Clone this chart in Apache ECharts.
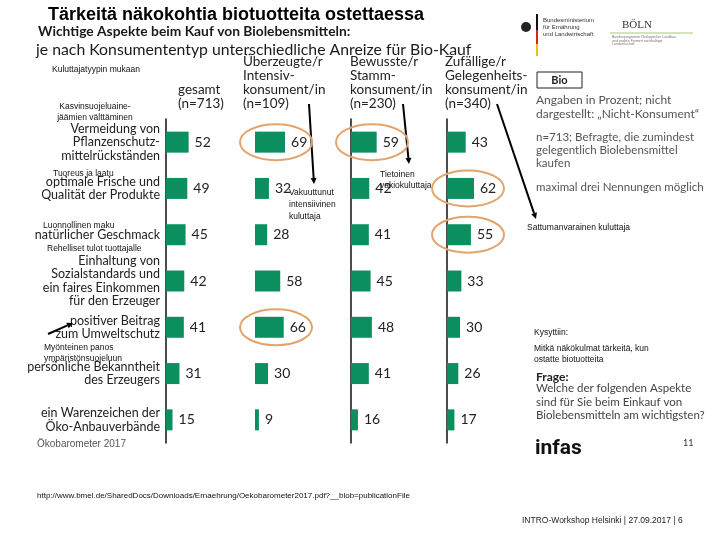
<!DOCTYPE html>
<html>
<head>
<meta charset="utf-8">
<script src="https://cdn.jsdelivr.net/npm/echarts@6/dist/echarts.min.js"></script>
<style>
  html, body { margin: 0; padding: 0; background: #fff; }
  #chart { width: 720px; height: 540px; }
</style>
</head>
<body>
<div id="chart"></div>
<script>
// ─── data ───────────────────────────────────────────
const CATEGORIES = [
  "Vermeidung von\nPflanzenschutz-\nmittelrückständen",
  "optimale Frische und\nQualität der Produkte",
  "natürlicher Geschmack",
  "Einhaltung von\nSozialstandards und\nein faires Einkommen\nfür den Erzeuger",
  "positiver Beitrag\nzum Umweltschutz",
  "persönliche Bekanntheit\ndes Erzeugers",
  "ein Warenzeichen der\nÖko-Anbauverbände"
];
const GROUPS = [
  "gesamt\n(n=713)",
  "Überzeugte/r\nIntensiv-\nkonsument/in\n(n=109)",
  "Bewusste/r\nStamm-\nkonsument/in\n(n=230)",
  "Zufällige/r\nGelegenheits-\nkonsument/in\n(n=340)"
];
const GESAMT = [52, 49, 45, 42, 41, 31, 15];
const INTENSIV = [69, 32, 28, 58, 66, 30, 9];
const STAMM = [59, 42, 41, 45, 48, 41, 16];
const GELEGENHEIT = [43, 62, 55, 33, 30, 26, 17];
const VALUES = [GESAMT, INTENSIV, STAMM, GELEGENHEIT];
// [group, category] pairs circled in orange
const HIGHLIGHTS = [[1, 0], [2, 0], [3, 1], [3, 2], [1, 4]];

// ─── layout ─────────────────────────────────────────
const GRID_LEFT = [166, 255, 351, 447];
const HEADER_X = [178, 243, 350, 445];
const SHOW_AXIS_LINE = [true, false, true, true];
const GREEN = "#0c8f5e";
const ORANGE = "#e2a46c";
const FONT = "Lato, 'Open Sans', sans-serif";
const SMALL = "'Liberation Sans', Arial, sans-serif";

const chart = echarts.init(document.getElementById("chart"));

const grids = GRID_LEFT.map((left) => ({ left, top: 119, width: 87, height: 324 }));
const xAxes = GRID_LEFT.map((_, i) => ({
  type: "value", gridIndex: i, min: 0, max: 200, show: false
}));
const yAxes = GRID_LEFT.map((_, i) => ({
  type: "category",
  gridIndex: i,
  inverse: true,
  data: CATEGORIES,
  axisLine: { show: SHOW_AXIS_LINE[i], lineStyle: { color: "#111", width: 1.5 } },
  axisTick: { show: false },
  splitLine: { show: false },
  axisLabel: {
    show: i === 0,
    margin: 6,
    fontSize: 12.5,
    lineHeight: 13.5,
    color: "#222",
    fontFamily: FONT,
    align: "right"
  }
}));
const series = VALUES.map((vals, i) => ({
  type: "bar",
  xAxisIndex: i,
  yAxisIndex: i,
  data: vals,
  barWidth: 21,
  itemStyle: { color: GREEN },
  label: {
    show: true,
    position: "right",
    distance: 6,
    fontSize: 14,
    color: "#222",
    fontFamily: FONT
  },
  animation: false
}));

chart.setOption({
  animation: false,
  grid: grids,
  xAxis: xAxes,
  yAxis: yAxes,
  series
});

// ─── annotations ────────────────────────────────────
const txt = (text, x, y, opts = {}) => ({
  type: "text",
  z: 50,
  style: Object.assign({
    text, x, y,
    fill: "#222",
    fontSize: 12,
    fontFamily: FONT,
    textAlign: "left", align: "left",
    textVerticalAlign: "middle", verticalAlign: "middle"
  }, opts)
});

const arrow = (x1, y1, x2, y2) => {
  const a = Math.atan2(y2 - y1, x2 - x1);
  const L = 6, W = 3;
  const bx = x2 - L * Math.cos(a), by = y2 - L * Math.sin(a);
  return [
    { type: "line", z: 60, shape: { x1, y1, x2: bx, y2: by }, style: { stroke: "#000", lineWidth: 2 } },
    { type: "polygon", z: 60, shape: { points: [
      [x2, y2],
      [bx + W * Math.sin(a), by - W * Math.cos(a)],
      [bx - W * Math.sin(a), by + W * Math.cos(a)]
    ] }, style: { fill: "#000" } }
  ];
};

const graphics = [
  // titles
  txt("Tärkeitä näkokohtia biotuotteita ostettaessa", 48, 15, { fontSize: 18, fontWeight: "bold", fontFamily: SMALL, fill: "#000" }),
  txt("Wichtige Aspekte beim Kauf von Biolebensmitteln:", 38, 32, { fontSize: 13.8, fontWeight: "bold", fill: "#1a1a1a" }),
  txt("je nach Konsumententyp unterschiedliche Anreize für Bio-Kauf", 36, 50, { fontSize: 15.8, fill: "#1a1a1a" }),
  // column headers
  ...GROUPS.map((g, i) => txt(g, HEADER_X[i], 111, {
    fontSize: 13.5, lineHeight: 14, fill: "#222", textVerticalAlign: "bottom", verticalAlign: "bottom"
  })),
  // Finnish notes
  txt("Kuluttajatyypin mukaan", 52, 70, { fontSize: 8.5, fontFamily: SMALL, fill: "#111" }),
  txt("Kasvinsuojeluaine-\njäämien välttäminen", 95, 112, { fontSize: 8.5, lineHeight: 11, fontFamily: SMALL, fill: "#111", textAlign: "center", align: "center" }),
  txt("Tuoreus ja laatu", 53, 174, { fontSize: 8.5, fontFamily: SMALL, fill: "#111" }),
  txt("Luonnollinen maku", 43, 226, { fontSize: 8.5, fontFamily: SMALL, fill: "#111" }),
  txt("Rehelliset tulot tuottajalle", 47, 249, { fontSize: 8.5, fontFamily: SMALL, fill: "#111" }),
  txt("Myönteinen panos\nympäristönsuojeluun", 44, 353, { fontSize: 8.5, lineHeight: 11, fontFamily: SMALL, fill: "#111" }),
  txt("Vakuuttunut\nintensiivinen\nkuluttaja", 289, 205, { fontSize: 8.5, lineHeight: 12, fontFamily: SMALL, fill: "#111" }),
  txt("Tietoinen\nvakiokuluttaja", 380, 180, { fontSize: 8.5, lineHeight: 11.5, fontFamily: SMALL, fill: "#111" }),
  txt("Sattumanvarainen kuluttaja", 527, 228, { fontSize: 8.5, fontFamily: SMALL, fill: "#111" }),
  ...arrow(48, 334, 73, 323),
  ...arrow(309, 104, 314, 184),
  ...arrow(403, 104, 409, 164),
  ...arrow(497, 104, 536, 219),
  // right side info
  { type: "rect", z: 50, shape: { x: 537, y: 72, width: 45, height: 16 }, style: { fill: "#fff", stroke: "#222", lineWidth: 1 } },
  txt("Bio", 559.5, 80, { fontSize: 11, fontWeight: "bold", textAlign: "center", align: "center" }),
  txt("Angaben in Prozent; nicht\ndargestellt: „Nicht-Konsument“", 536, 107, { fontSize: 12, lineHeight: 14, fill: "#555" }),
  txt("n=713; Befragte, die zumindest\ngelegentlich Biolebensmittel\nkaufen", 536, 150, { fontSize: 11.5, lineHeight: 13, fill: "#555" }),
  txt("maximal drei Nennungen möglich", 536, 187, { fontSize: 11.5, fill: "#555" }),
  txt("Kysyttiin:", 534, 333, { fontSize: 8.5, fontFamily: SMALL, fill: "#111" }),
  txt("Mitkä näkökulmat tärkeitä, kun\nostatte biotuotteita", 534, 354, { fontSize: 8.5, lineHeight: 11, fontFamily: SMALL, fill: "#111" }),
  txt("Frage:", 536, 377, { fontSize: 12, fontWeight: "bold", fill: "#222" }),
  txt("Welche der folgenden Aspekte\nsind für Sie beim Einkauf von\nBiolebensmitteln am wichtigsten?", 536, 402, { fontSize: 11.5, lineHeight: 13.5, fill: "#444" }),
  txt("infas", 535, 449, { fontSize: 21, fontWeight: "bold", fontFamily: "'Liberation Sans Narrow', Roboto, sans-serif", fill: "#111" }),
  txt("11", 683, 443, { fontSize: 9, fill: "#333" }),
  txt("Ökobarometer 2017", 37, 444, { fontSize: 10, fontFamily: SMALL, fill: "#555" }),
  txt("http://www.bmel.de/SharedDocs/Downloads/Ernaehrung/Oekobarometer2017.pdf?__blob=publicationFile", 37, 496, { fontSize: 8, fontFamily: SMALL, fill: "#111" }),
  txt("INTRO-Workshop Helsinki | 27.09.2017 | 6", 522, 521, { fontSize: 8.5, fontFamily: SMALL, fill: "#222" }),
  // logos (rough)
  { type: "circle", z: 50, shape: { cx: 526, cy: 27, r: 5 }, style: { fill: "#222" } },
  { type: "rect", z: 50, shape: { x: 536, y: 14, width: 2, height: 16 }, style: { fill: "#111" } },
  { type: "rect", z: 50, shape: { x: 536, y: 30, width: 2, height: 14 }, style: { fill: "#d22" } },
  { type: "rect", z: 50, shape: { x: 536, y: 44, width: 2, height: 12 }, style: { fill: "#f0c000" } },
  txt("Bundesministerium\nfür Ernährung\nund Landwirtschaft", 543, 27, { fontSize: 6, lineHeight: 7, fontFamily: SMALL, fill: "#333" }),
  txt("BÖLN", 622, 25, { fontSize: 11, fontFamily: "'Liberation Serif', serif", fill: "#333" }),
  { type: "line", z: 50, shape: { x1: 610, y1: 33, x2: 693, y2: 33 }, style: { stroke: "#a8c878", lineWidth: 1 } },
  txt("Bundesprogramm Ökologischer Landbau\nund andere Formen nachhaltiger\nLandwirtschaft", 612, 41, { fontSize: 3.5, lineHeight: 3.5, fontFamily: SMALL, fill: "#777" })
];

// orange ellipses around highlighted bars, placed through the grid scales
HIGHLIGHTS.forEach(([g, c]) => {
  const p = chart.convertToPixel({ gridIndex: g }, [0, c]);
  graphics.push({
    type: "ellipse",
    z: 70,
    shape: { cx: p[0] + 21, cy: p[1], rx: 36, ry: 18 },
    style: { fill: "none", stroke: ORANGE, lineWidth: 2 }
  });
});

chart.setOption({ graphic: graphics });
</script>
</body>
</html>
